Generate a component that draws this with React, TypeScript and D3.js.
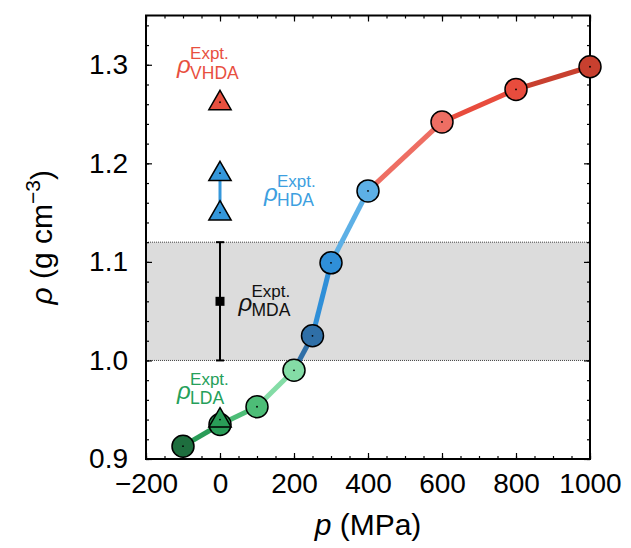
import React, { useEffect, useRef } from 'react';
import * as d3 from 'd3';

// simulated density along the compression path
const pressure = [-100, 0, 100, 200, 250, 300, 400, 600, 800, 1000];
const density = [0.913, 0.935, 0.953, 0.99, 1.025, 1.099, 1.172, 1.242, 1.275, 1.298];
const pointColors = ['#1e6e3e', '#2a9d58', '#4dbd77', '#84dca6', '#2f6fa7', '#2f8fd8', '#5db0e6', '#ee6e63', '#e84c3d', '#c8402f'];

// experimental values (all at ambient pressure)
const exptP = 0;
const vhdaRho = [1.262];
const hdaRho = [1.19, 1.15];
const ldaRho = [0.94];
const mdaRho = 1.06;
const mdaRange = [1.0, 1.12];

const xTicks = [-200, 0, 200, 400, 600, 800, 1000];
const yTicks = [0.9, 1.0, 1.1, 1.2, 1.3];

// label anchors (baseline of the rho) in data units
const labels = [
  { sub: 'VHDA', p: -116, rho: 1.2916, color: '#e8503f' },
  { sub: 'HDA', p: 119, rho: 1.1618, color: '#3d9fe0' },
  { sub: 'MDA', p: 50, rho: 1.0502, color: '#111' },
  { sub: 'LDA', p: -116, rho: 0.9609, color: '#25a05a' },
];

const W = 631, H = 548;
const font = 'Liberation Sans, Arial, Helvetica, sans-serif';

export default function App() {
  const ref = useRef<SVGSVGElement>(null);

  useEffect(() => {
    const svg = d3.select(ref.current);
    svg.selectAll('*').remove();

    const x = d3.scaleLinear().domain([-200, 1000]).range([146, 590]);
    const y = d3.scaleLinear().domain([0.9, 1.35]).range([459, 15.5]);
    const [x0, x1] = x.range();
    const [y0, y1] = y.range();

    // MDA band
    svg.append('rect')
      .attr('x', x0).attr('width', x1 - x0)
      .attr('y', y(mdaRange[1])).attr('height', y(mdaRange[0]) - y(mdaRange[1]))
      .attr('fill', '#dcdcdc');
    mdaRange.forEach(v => {
      svg.append('line')
        .attr('x1', x0).attr('x2', x1).attr('y1', y(v)).attr('y2', y(v))
        .attr('stroke', '#444').attr('stroke-width', 1).attr('stroke-dasharray', '1,1');
    });

    // error bar + square for MDA
    svg.append('line')
      .attr('x1', x(exptP)).attr('x2', x(exptP))
      .attr('y1', y(mdaRange[0])).attr('y2', y(mdaRange[1]))
      .attr('stroke', '#000').attr('stroke-width', 2);
    mdaRange.forEach(v => {
      svg.append('line')
        .attr('x1', x(exptP) - 4).attr('x2', x(exptP) + 4).attr('y1', y(v)).attr('y2', y(v))
        .attr('stroke', '#000').attr('stroke-width', 2);
    });
    svg.append('rect')
      .attr('x', x(exptP) - 4.5).attr('y', y(mdaRho) - 4.5)
      .attr('width', 9).attr('height', 9).attr('fill', '#000');

    // axes with inward ticks on all sides
    const g = svg.append('g').attr('font-family', font);
    const minorX = d3.range(-200, 1001, 50);
    const minorY = d3.range(0.9, 1.3501, 0.02);
    const tick = (sel: any) => sel.call((s: any) => s.select('.domain').remove());

    g.append('g').attr('transform', `translate(0,${y0})`)
      .call(d3.axisBottom(x).tickValues(minorX).tickSize(-3).tickFormat(() => '')).call(tick);
    g.append('g').attr('transform', `translate(0,${y0})`)
      .call(d3.axisBottom(x).tickValues(xTicks).tickSize(-6).tickPadding(14).tickFormat(d3.format('d'))).call(tick);
    g.append('g').attr('transform', `translate(0,${y1})`)
      .call(d3.axisTop(x).tickValues(minorX).tickSize(-3).tickFormat(() => '')).call(tick);
    g.append('g').attr('transform', `translate(0,${y1})`)
      .call(d3.axisTop(x).tickValues(xTicks).tickSize(-6).tickFormat(() => '')).call(tick);
    g.append('g').attr('transform', `translate(${x0},0)`)
      .call(d3.axisLeft(y).tickValues(minorY).tickSize(-3).tickFormat(() => '')).call(tick);
    g.append('g').attr('transform', `translate(${x0},0)`)
      .call(d3.axisLeft(y).tickValues(yTicks).tickSize(-6).tickPadding(18).tickFormat(d3.format('.1f'))).call(tick);
    g.append('g').attr('transform', `translate(${x1},0)`)
      .call(d3.axisRight(y).tickValues(minorY).tickSize(-3).tickFormat(() => '')).call(tick);
    g.append('g').attr('transform', `translate(${x1},0)`)
      .call(d3.axisRight(y).tickValues(yTicks).tickSize(-6).tickFormat(() => '')).call(tick);

    g.selectAll('.tick line').attr('stroke', '#000').attr('stroke-width', 1.2);
    g.selectAll('.tick text').attr('font-size', 28).attr('fill', '#000').attr('font-family', font);

    svg.append('rect')
      .attr('x', x0).attr('y', y1).attr('width', x1 - x0).attr('height', y0 - y1)
      .attr('fill', 'none').attr('stroke', '#000').attr('stroke-width', 2);

    // axis titles
    const xt = svg.append('text')
      .attr('x', (x0 + x1) / 2).attr('y', 535)
      .attr('text-anchor', 'middle').attr('font-family', font).attr('font-size', 30);
    xt.append('tspan').attr('font-style', 'italic').text('p');
    xt.append('tspan').text(' (MPa)');

    const yt = svg.append('text')
      .attr('transform', `translate(52,${(y0 + y1) / 2}) rotate(-90)`)
      .attr('text-anchor', 'middle').attr('font-family', font).attr('font-size', 30);
    yt.append('tspan').attr('font-style', 'italic').text('ρ');
    yt.append('tspan').text(' (g cm');
    yt.append('tspan').attr('font-size', 21).attr('dy', -12).text('−3');
    yt.append('tspan').attr('dy', 12).text(')');

    // simulated curve, each segment coloured like its end point
    for (let i = 1; i < pressure.length; i++) {
      svg.append('line')
        .attr('x1', x(pressure[i - 1])).attr('y1', y(density[i - 1]))
        .attr('x2', x(pressure[i])).attr('y2', y(density[i]))
        .attr('stroke', pointColors[i]).attr('stroke-width', 5);
    }
    pressure.forEach((p, i) => {
      svg.append('circle')
        .attr('cx', x(p)).attr('cy', y(density[i])).attr('r', 11)
        .attr('fill', pointColors[i]).attr('stroke', '#000').attr('stroke-width', 1.5);
      svg.append('circle')
        .attr('cx', x(p)).attr('cy', y(density[i])).attr('r', 0.9).attr('fill', '#000');
    });

    // experimental triangles
    svg.append('line')
      .attr('x1', x(exptP)).attr('x2', x(exptP))
      .attr('y1', y(hdaRho[0])).attr('y2', y(hdaRho[1]))
      .attr('stroke', '#3497db').attr('stroke-width', 3);
    const tri = d3.symbol().type(d3.symbolTriangle).size(215);
    const triangles = [
      ...vhdaRho.map(v => ({ v, c: '#e8503f' })),
      ...hdaRho.map(v => ({ v, c: '#3497db' })),
      ...ldaRho.map(v => ({ v, c: '#2a9d58' })),
    ];
    triangles.forEach(t => {
      svg.append('path')
        .attr('d', tri()!)
        .attr('transform', `translate(${x(exptP)},${y(t.v) + 1})`)
        .attr('fill', t.c).attr('stroke', '#000').attr('stroke-width', 1.5).attr('stroke-linejoin', 'miter');
      svg.append('circle')
        .attr('cx', x(exptP)).attr('cy', y(t.v)).attr('r', 0.9).attr('fill', '#000');
    });

    // annotations: rho with "Expt." above and the phase below
    labels.forEach(l => {
      const lx = x(l.p), ly = y(l.rho);
      const t = svg.append('g').attr('fill', l.color).attr('font-family', font);
      t.append('text').attr('x', lx).attr('y', ly).attr('font-size', 24).attr('font-style', 'italic').text('ρ');
      t.append('text').attr('x', lx + 13).attr('y', ly - 14).attr('font-size', 17).text('Expt.');
      t.append('text').attr('x', lx + 13).attr('y', ly + 5.5).attr('font-size', 17.5).text(l.sub);
    });
  }, []);

  return (
    <svg ref={ref} width={W} height={H}
      style={{ position: 'absolute', left: 0, top: 0, background: '#fff' }} />
  );
}
